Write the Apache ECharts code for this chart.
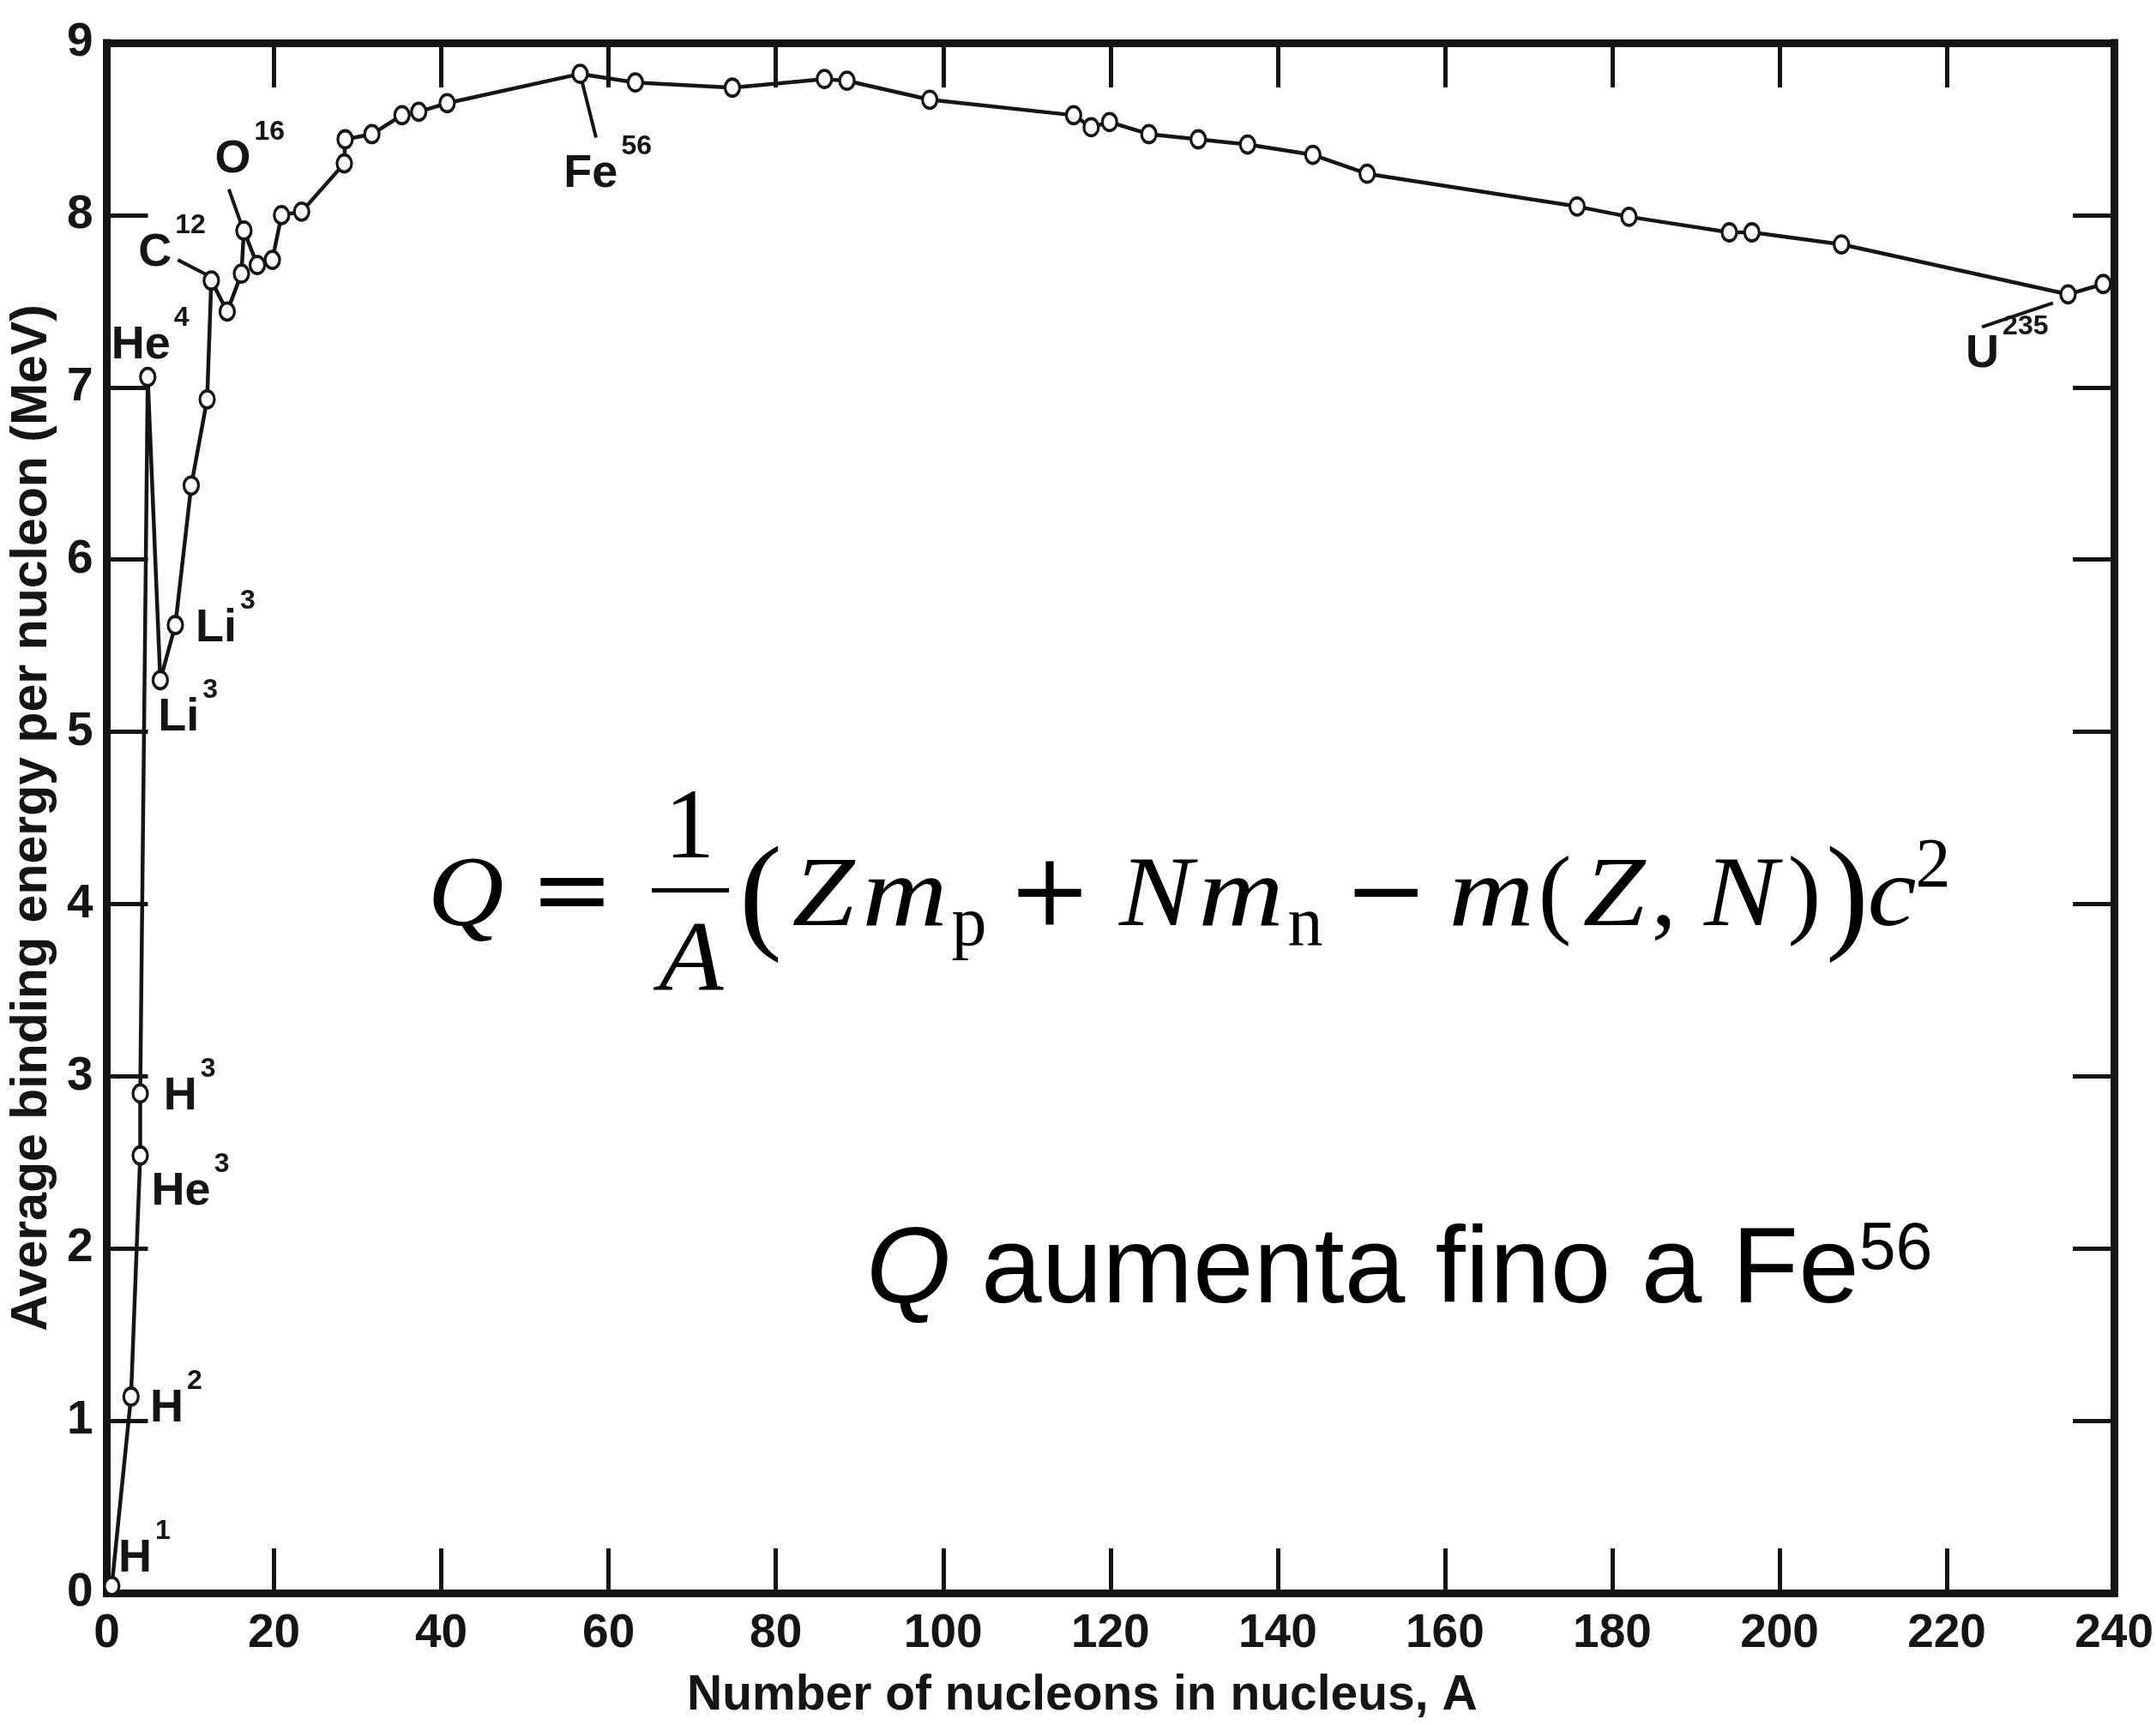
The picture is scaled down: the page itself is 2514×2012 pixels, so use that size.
<!DOCTYPE html>
<html><head><meta charset="utf-8">
<script src="https://cdn.jsdelivr.net/npm/echarts@6/dist/echarts.min.js"></script>
<style>html,body{margin:0;padding:0;background:#fff;}#c{width:2514px;height:2012px;}</style>
</head><body><div id="c"></div>
<script>
// ---- data (A = number of nucleons, BE = average binding energy per nucleon, MeV)
const massNumber = [0.6, 2.9, 4.0, 4.0, 4.9, 6.4, 8.2, 10.1, 12.0, 12.5, 14.4, 16.1, 16.4, 18.0, 19.8, 20.9, 23.3, 28.4, 28.5, 31.7, 35.3, 37.3, 40.7, 56.6, 63.2, 74.8, 85.8, 88.5, 98.4, 115.6, 117.7, 119.9, 124.6, 130.5, 136.4, 144.2, 150.7, 175.8, 182.0, 194.0, 196.7, 207.4, 234.5, 238.7];
const bindingEnergy = [0.04, 1.14, 2.54, 2.90, 7.06, 5.30, 5.62, 6.43, 6.93, 7.62, 7.44, 7.66, 7.91, 7.71, 7.74, 8.00, 8.02, 8.30, 8.44, 8.47, 8.58, 8.60, 8.65, 8.82, 8.77, 8.74, 8.79, 8.78, 8.67, 8.58, 8.51, 8.54, 8.47, 8.44, 8.41, 8.35, 8.24, 8.05, 7.99, 7.90, 7.90, 7.83, 7.54, 7.60];

// ---- isotope labels (anchor in data coordinates)
const labelElem = ['H', 'H', 'He', 'H', 'Li', 'Li', 'He', 'C', 'O', 'Fe', 'U'];
const labelSup  = ['1', '2', '3', '3', '3', '3', '4', '12', '16', '56', '235'];
const labelA    = [4.5, 8.3, 10.0, 9.9, 9.7, 14.2, 5.2, 7.8, 17.1, 59.9, 227.2];
const labelBE   = [0.20, 1.07, 2.33, 2.88, 5.08, 5.60, 7.24, 7.78, 8.32, 8.24, 7.19];

// ---- leader lines [A1, BE1, A2, BE2]
const leaderC  = [8.5, 7.74, 12.1, 7.65];
const leaderO  = [14.6, 8.15, 16.2, 7.93];
const leaderFe = [56.7, 8.80, 58.5, 8.45];
const leaderU  = [224.2, 7.35, 232.7, 7.49];

// ---- axis ticks
const xTicks = {min: 0, max: 240, step: 20};
const yTicks = {min: 0, max: 9, step: 1};

const ink = '#151515';
const sans = 'Liberation Sans';
const serif = 'Liberation Serif';

const points = massNumber.map((a, i) => [a, bindingEnergy[i]]);
const labelData = labelElem.map((e, i) => ({value: [labelA[i], labelBE[i]], elem: e, sup: labelSup[i]}));
const leaders = [leaderC, leaderO, leaderFe, leaderU].map(l => ({coords: [[l[0], l[1]], [l[2], l[3]]]}));

function xAxisCfg(pos, showLabel) {
  return {
    type: 'value', position: pos, min: xTicks.min, max: xTicks.max, interval: xTicks.step,
    axisLine: {show: true, onZero: false, lineStyle: {color: ink, width: 9, cap: 'square'}},
    axisTick: {show: true, inside: true, length: 52, lineStyle: {color: ink, width: 5}},
    axisLabel: {show: showLabel, fontSize: 55, fontWeight: 'bold', fontFamily: sans, color: ink, margin: 20},
    splitLine: {show: false}
  };
}
function yAxisCfg(pos, showLabel) {
  return {
    type: 'value', position: pos, min: yTicks.min, max: yTicks.max, interval: yTicks.step,
    axisLine: {show: true, onZero: false, lineStyle: {color: ink, width: 9, cap: 'square'}},
    axisTick: {show: true, inside: true, length: 48, lineStyle: {color: ink, width: 5}},
    axisLabel: {show: showLabel, fontSize: 55, fontWeight: 'bold', fontFamily: sans, color: ink, margin: 16},
    splitLine: {show: false}
  };
}

const xb = xAxisCfg('bottom', true);
xb.name = 'Number of nucleons in nucleus, A';
xb.nameLocation = 'middle';
xb.nameGap = 92;
xb.nameTextStyle = {fontSize: 57, fontWeight: 'bold', fontFamily: sans, color: ink, padding: [0, 66, 0, 0]};
const yl = yAxisCfg('left', true);
yl.name = 'Average binding energy per nucleon (MeV)';
yl.nameLocation = 'middle';
yl.nameGap = 56;
yl.nameTextStyle = {fontSize: 59, fontWeight: 'bold', fontFamily: sans, color: ink};

// formula pieces: [text, centre x, baseline y, size, style, family, horizontal stretch]
const fs = 117;
const base = 1090;
const formula = [
  ['Q', 543, base, fs, 'italic', serif, 1.05],
  ['=', 667, base, fs, 'normal', 'DejaVu Serif', 1],
  ['1', 804, 1011, fs, 'normal', serif, 1],
  ['A', 806, 1166, fs, 'italic', serif, 1.05],
  ['(', 887, base + 16, 150, 'normal', serif, 1],
  ['Z', 960, base, fs, 'italic', serif, 1.12],
  ['m', 1055, base, fs, 'italic', serif, 1.18],
  ['p', 1130, base + 20, 82, 'normal', serif, 1],
  ['+', 1224, base, fs, 'normal', 'DejaVu Serif', 1],
  ['N', 1348, base, fs, 'italic', serif, 1.1],
  ['m', 1447, base, fs, 'italic', serif, 1.18],
  ['n', 1522, base + 20, 82, 'normal', serif, 1],
  ['\u2212', 1616, base, fs, 'normal', 'DejaVu Serif', 1],
  ['m', 1739, base, fs, 'italic', serif, 1.18],
  ['(', 1813, base, fs, 'normal', serif, 1],
  ['Z', 1882, base, fs, 'italic', serif, 1.12],
  [',', 1940, base, fs, 'normal', serif, 1],
  ['N', 2030, base, fs, 'italic', serif, 1.1],
  [')', 2104, base, fs, 'normal', serif, 1],
  [')', 2154, base + 16, 150, 'normal', serif, 1],
  ['c', 2206, base, fs, 'italic', serif, 1.1],
  ['2', 2254, base - 48, 82, 'normal', serif, 1]
];
const graphics = formula.map(p => ({
  type: 'text', x: p[1], y: p[2] - p[3] * 0.86, scaleX: p[6],
  style: {text: p[0], fontSize: p[3], fontStyle: p[4], fontFamily: p[5], fill: '#000',
          align: 'center', textAlign: 'center', verticalAlign: 'top', textVerticalAlign: 'top'}
}));
graphics.push({type: 'rect', shape: {x: 760, y: 1036, width: 90, height: 5}, style: {fill: '#000'}});
graphics.push({type: 'text', left: 1010, top: 1420,
  style: {
    text: '{q|Q}{r| aumenta fino a Fe}{s|56}',
    rich: {
      q: {fontSize: 127, fontStyle: 'italic', fontFamily: sans, color: '#000'},
      r: {fontSize: 127, fontFamily: sans, color: '#000'},
      s: {fontSize: 77, fontFamily: sans, color: '#000', verticalAlign: 'top'}
    }
  }});

const chart = echarts.init(document.getElementById('c'), null, {renderer: 'canvas'});
chart.setOption({
  backgroundColor: '#fff',
  animation: false,
  grid: {left: 124, right: 37, top: 50, bottom: 150, containLabel: false},
  xAxis: [xb, xAxisCfg('top', false)],
  yAxis: [yl, yAxisCfg('right', false)],
  graphic: graphics,
  series: [
    {
      type: 'lines', coordinateSystem: 'cartesian2d', xAxisIndex: 0, yAxisIndex: 0,
      data: leaders, lineStyle: {color: ink, width: 4, opacity: 1}, z: 3, silent: true
    },
    {
      type: 'line', xAxisIndex: 0, yAxisIndex: 0, data: points,
      symbol: 'circle', symbolSize: [17, 20], showAllSymbol: true,
      lineStyle: {color: ink, width: 4.5},
      itemStyle: {color: '#fff', borderColor: ink, borderWidth: 3.5},
      z: 4, silent: true
    },
    {
      type: 'scatter', xAxisIndex: 0, yAxisIndex: 0, data: labelData, symbolSize: 0,
      itemStyle: {color: ink, opacity: 1},
      z: 5, silent: true,
      label: {
        show: true, position: 'inside', color: ink, opacity: 1, textBorderWidth: 0, textBorderColor: 'transparent',
        formatter: p => '{m|' + p.data.elem + '}{s|' + p.data.sup + '}',
        rich: {
          m: {fontSize: 54, fontWeight: 'bold', fontFamily: sans, color: ink, lineHeight: 96, textBorderWidth: 0},
          s: {fontSize: 32, fontWeight: 'bold', fontFamily: sans, color: ink, lineHeight: 30, verticalAlign: 'top', padding: [0, 0, 0, 4], textBorderWidth: 0}
        }
      }
    }
  ]
});
</script></body></html>
